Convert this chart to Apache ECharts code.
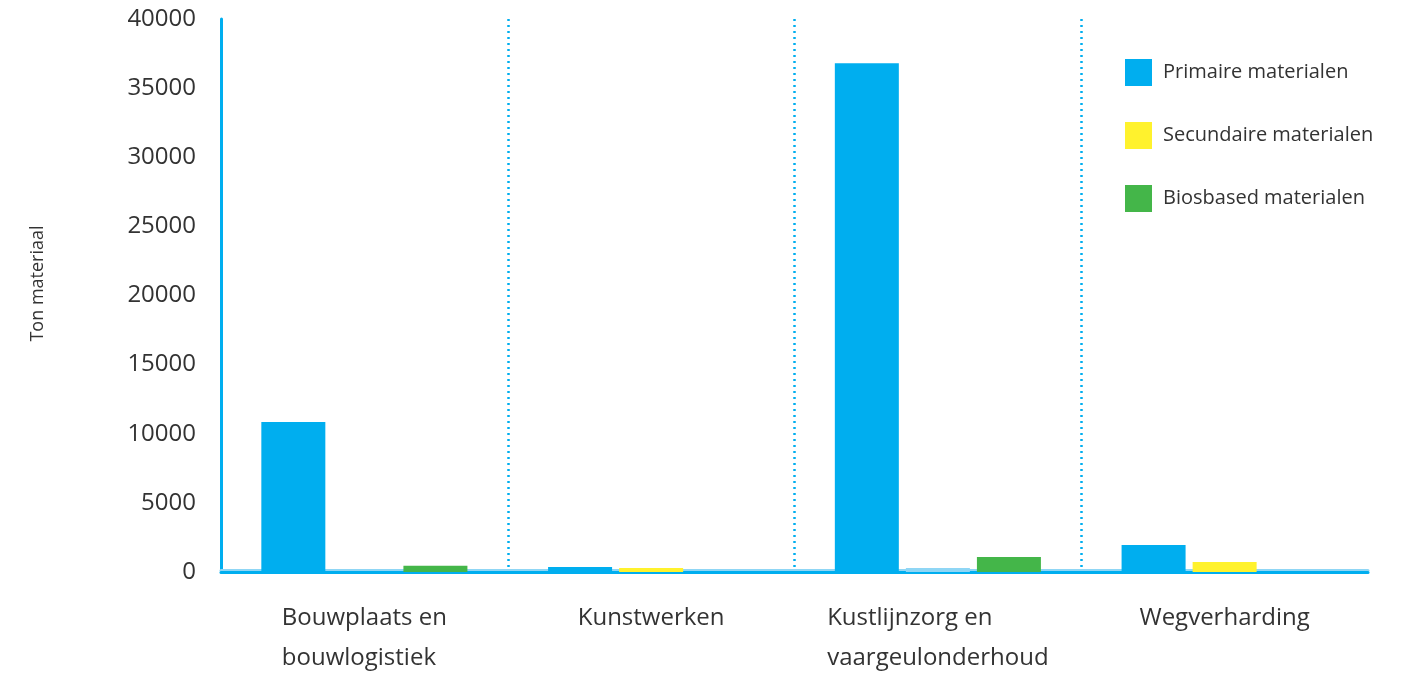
<!DOCTYPE html>
<html>
<head>
<meta charset="utf-8">
<script src="https://cdn.jsdelivr.net/npm/echarts@6/dist/echarts.min.js"></script>
<style>
html,body{margin:0;padding:0;background:#fff;}
#chart{width:1414px;height:675px;}
</style>
</head>
<body>
<div id="chart"></div>
<script>
const categories = ['Bouwplaats en\nbouwlogistiek', 'Kunstwerken', 'Kustlijnzorg en\nvaargeulonderhoud', 'Wegverharding'];
const seriesNames = ['Primaire materialen', 'Secundaire materialen', 'Biosbased materialen'];
const primaire = [10850, 360, 36800, 1950];
const secundaire = [0, 290, 290, 720];
const biosbased = [450, 0, 1080, 0];
const yTicks = [0, 5000, 10000, 15000, 20000, 25000, 30000, 35000, 40000];

const BLUE = '#00aeef', YELLOW = '#fff22d', GREEN = '#44b649', LIGHTBLUE = '#8fd6f5';
const FONT = 'Open Sans';

const chart = echarts.init(document.getElementById('chart'), null, {renderer: 'canvas'});
chart.setOption({
  animation: false,
  backgroundColor: '#fff',
  textStyle: {fontFamily: FONT},
  grid: {left: 221, right: 46, top: 19, bottom: 103, containLabel: false, outerBoundsMode: 'none'},
  legend: {
    orient: 'vertical', left: 1120, top: 54,
    itemWidth: 27, itemHeight: 27, itemGap: 36,
    icon: 'rect',
    data: seriesNames,
    textStyle: {fontSize: 20, color: '#333', fontFamily: FONT, padding: [0, 0, 0, 6]}
  },
  xAxis: {
    type: 'category',
    data: categories,
    axisLine: {show: true, lineStyle: {color: BLUE, width: 3, shadowColor: LIGHTBLUE, shadowOffsetY: -2, shadowBlur: 0}},
    axisTick: {show: false},
    splitLine: {show: true, showMinLine: false, showMaxLine: false, lineStyle: {color: BLUE, type: [2, 4], width: 2.5}},
    axisLabel: {
      margin: 26,
      interval: 0,
      formatter: function (v) {
        return v.split('\n').map(function (s) { return '{a|' + s + '}'; }).join('\n');
      },
      rich: {a: {fontSize: 24, lineHeight: 40, color: '#333', align: 'left', fontFamily: FONT}}
    }
  },
  yAxis: {
    type: 'value',
    min: yTicks[0], max: yTicks[yTicks.length - 1], interval: yTicks[1] - yTicks[0],
    name: 'Ton materiaal',
    nameLocation: 'middle',
    nameGap: 174,
    nameTextStyle: {fontSize: 18, color: '#333', fontFamily: FONT, padding: [0, 0, 0, 24]},
    axisLine: {show: true, lineStyle: {color: BLUE, width: 3}},
    axisTick: {show: false},
    splitLine: {show: false},
    axisLabel: {margin: 25, fontSize: 24, color: '#333', fontFamily: FONT, formatter: function (v) { return String(v); }}
  },
  series: [
    {name: seriesNames[0], type: 'bar', data: primaire, barWidth: 64, barGap: '11%', itemStyle: {color: BLUE}},
    {name: seriesNames[1], type: 'bar', barWidth: 64, itemStyle: {color: YELLOW},
      data: secundaire.map(function (v, i) { return i === 2 ? {value: v, itemStyle: {color: LIGHTBLUE}} : v; })},
    {name: seriesNames[2], type: 'bar', data: biosbased, barWidth: 64, itemStyle: {color: GREEN}}
  ]
});
</script>
</body>
</html>
